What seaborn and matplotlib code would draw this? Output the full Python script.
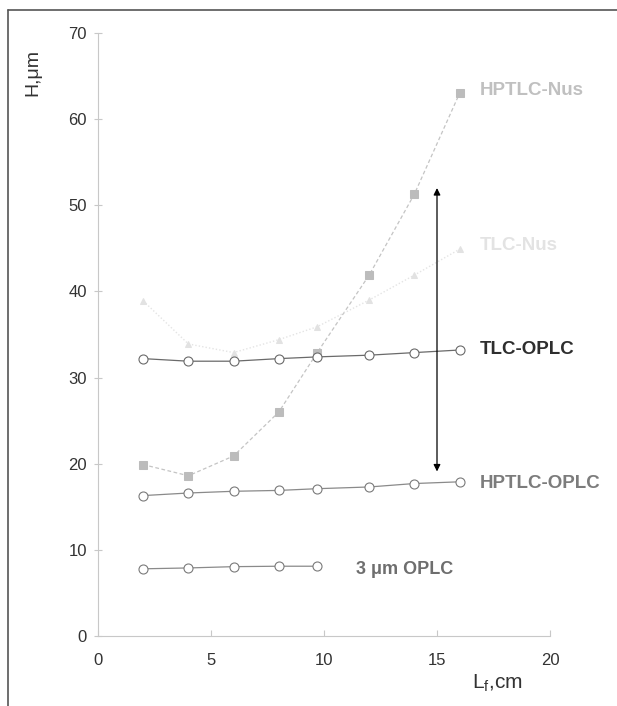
import matplotlib
matplotlib.use("Agg")
import matplotlib.pyplot as plt
import seaborn as sns
import pandas as pd
from matplotlib.lines import Line2D

# Migration distance (cm) at which plate height was measured
lf_full = [2, 4, 6, 8, 9.7, 12, 14, 16]
lf_short = [2, 4, 6, 8, 9.7]

# Plate height H (µm) for each technique
h_hptlc_nus = [19.9, 18.6, 20.9, 26.0, 32.9, 41.9, 51.3, 63.0]
h_tlc_nus = [38.9, 33.9, 32.9, 34.4, 35.9, 39.0, 41.9, 44.9]
h_tlc_oplc = [32.2, 31.9, 31.9, 32.2, 32.4, 32.6, 32.9, 33.2]
h_hptlc_oplc = [16.3, 16.6, 16.8, 16.9, 17.1, 17.3, 17.7, 17.9]
h_3um_oplc = [7.8, 7.9, 8.05, 8.1, 8.1]

series_names = ["HPTLC-Nus", "TLC-Nus", "TLC-OPLC", "HPTLC-OPLC", "3 μm OPLC"]

x_ticks = [0, 5, 10, 15, 20]
y_ticks = [0, 10, 20, 30, 40, 50, 60, 70]

# Double arrow marking the OPLC vs Nus gap at Lf = 15 cm
arrow_x = 15
arrow_from, arrow_to = 52.0, 19.1

sns.set_theme(style="white")
plt.rcParams["font.family"] = ["Liberation Sans", "DejaVu Sans"]
plt.rcParams["mathtext.default"] = "regular"

df = pd.concat([
    pd.DataFrame({"Lf": lf_full, "H": h_hptlc_nus, "series": series_names[0]}),
    pd.DataFrame({"Lf": lf_full, "H": h_tlc_nus, "series": series_names[1]}),
    pd.DataFrame({"Lf": lf_full, "H": h_tlc_oplc, "series": series_names[2]}),
    pd.DataFrame({"Lf": lf_full, "H": h_hptlc_oplc, "series": series_names[3]}),
    pd.DataFrame({"Lf": lf_short, "H": h_3um_oplc, "series": series_names[4]}),
], ignore_index=True)

fig = plt.figure(figsize=(6.17, 7.06), dpi=100)
fig.patch.set_facecolor("white")
ax = fig.add_axes([98 / 617, 1 - 636 / 706, (550 - 98) / 617, (636 - 33) / 706])

styles = {
    "HPTLC-Nus": dict(color="#c4c4c4", linestyle=(0, (3, 2)), linewidth=0.9,
                      marker="s", markersize=5.5, markerfacecolor="#bcbcbc",
                      markeredgecolor="#bcbcbc"),
    "TLC-Nus": dict(color="#e4e4e4", linestyle=(0, (1, 1.5)), linewidth=1.0,
                    marker="^", markersize=4.5, markerfacecolor="#e2e2e2",
                    markeredgecolor="#e2e2e2"),
    "TLC-OPLC": dict(color="#6a6a6a", linestyle="-", linewidth=0.9,
                     marker="o", markersize=6.5, markerfacecolor="white",
                     markeredgecolor="#6a6a6a", markeredgewidth=0.8),
    "HPTLC-OPLC": dict(color="#8a8a8a", linestyle="-", linewidth=0.9,
                       marker="o", markersize=6.5, markerfacecolor="white",
                       markeredgecolor="#7a7a7a", markeredgewidth=0.8),
    "3 μm OPLC": dict(color="#8a8a8a", linestyle="-", linewidth=0.9,
                      marker="o", markersize=6.5, markerfacecolor="white",
                      markeredgecolor="#7a7a7a", markeredgewidth=0.8),
}

for name in series_names:
    sub = df[df["series"] == name]
    sns.lineplot(data=sub, x="Lf", y="H", ax=ax, sort=False, legend=False,
                 **styles[name])

ax.annotate("", xy=(arrow_x, arrow_to), xytext=(arrow_x, arrow_from),
            arrowprops=dict(arrowstyle="<|-|>", color="black", lw=0.9,
                            mutation_scale=10, shrinkA=0, shrinkB=0))

# Series labels placed next to the line ends
label_kw = dict(fontsize=13.5, fontweight="bold", va="center", ha="left")
ax.text(16.9, 63.3, "HPTLC-Nus", color="#c0c0c0", **label_kw)
ax.text(16.9, 45.3, "TLC-Nus", color="#e3e3e3", **label_kw)
ax.text(16.9, 33.3, "TLC-OPLC", color="#2e2e2e", **label_kw)
ax.text(16.9, 17.7, "HPTLC-OPLC", color="#7c7c7c", **label_kw)
ax.text(11.4, 7.7, "3 μm OPLC", color="#6e6e6e",
        **{**label_kw, "fontsize": 13})

ax.set_xlim(0, 20)
ax.set_ylim(0, 70)
ax.set_xticks(x_ticks)
ax.set_yticks(y_ticks)
ax.set_xlabel("")
ax.set_ylabel("")
ax.tick_params(axis="both", labelsize=12, labelcolor="#333333", color="#c8c8c8",
               width=0.8)
ax.tick_params(axis="x", direction="in", length=4, pad=12, bottom=True)
ax.tick_params(axis="y", direction="inout", length=6, pad=5, left=True)

for side in ["top", "right"]:
    ax.spines[side].set_visible(False)
for side in ["left", "bottom"]:
    ax.spines[side].set_color("#c8c8c8")
    ax.spines[side].set_linewidth(0.8)

fig.text(33 / 617, 1 - 72 / 706, "H,μm", rotation=90, fontsize=14,
         color="#333333", ha="center", va="center")
fig.text(497 / 617, 1 - 683 / 706, "L$_f$,cm", fontsize=15, color="#333333",
         ha="center", va="center")

# Page frame on the top and left edges
fig.add_artist(Line2D([8 / 617, 8 / 617], [0, 1 - 10 / 706], transform=fig.transFigure,
                      color="#555555", lw=1.2))
fig.add_artist(Line2D([8 / 617, 1], [1 - 10 / 706, 1 - 10 / 706], transform=fig.transFigure,
                      color="#555555", lw=1.2))

fig.savefig("out.png", dpi=100, facecolor="white")
